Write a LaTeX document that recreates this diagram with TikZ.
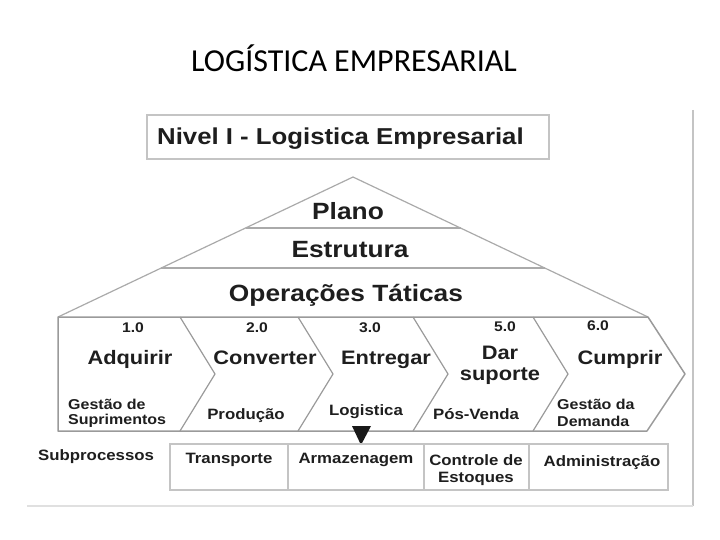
\documentclass[tikz,border=0pt]{standalone}
\usepackage{fontspec}
\setmainfont{Liberation Sans}
\newfontfamily\titlefont{Carlito}
\newfontfamily\wf[FakeStretch=1.12]{Liberation Sans}
\definecolor{txt}{HTML}{1E1E1E}
\definecolor{pyr}{HTML}{AAAAAA}
\definecolor{chev}{HTML}{9A9A9A}
\definecolor{boxc}{HTML}{C4C4C4}
\tikzset{
  lbl/.style={inner sep=0pt, anchor=base, text=txt, font=\wf\bfseries\fontsize{15}{17}\selectfont},
  sml/.style={inner sep=0pt, anchor=base west, text=txt, font=\wf\bfseries\fontsize{14.3}{16}\selectfont},
  big/.style={inner sep=0pt, anchor=base, text=txt, font=\wf\bfseries\fontsize{23.5}{26}\selectfont},
  mid/.style={inner sep=0pt, anchor=base, text=txt, font=\wf\bfseries\fontsize{19.5}{22}\selectfont},
  num/.style={inner sep=0pt, anchor=base, text=txt, font=\wf\bfseries\fontsize{14}{16}\selectfont},
}
\begin{document}
\begin{tikzpicture}[x=1pt,y=-1pt]
\useasboundingbox (0,0) rectangle (720,540);
% title
\node[inner sep=0pt, anchor=base, font=\titlefont\fontsize{32}{36}\selectfont] (title) at (354,72) {LOGÍSTICA EMPRESARIAL};
% frame
\draw[boxc, line width=2pt] (693,110) -- (693,506);
\draw[black!12, line width=1.5pt] (27,506) -- (693,506);
% header
\draw[boxc, line width=1.2pt] (147,115) rectangle (549,159);
\node[big, font=\wf\bfseries\fontsize{23}{26}\selectfont, anchor=base west] (hdr) at (157,145) {Nivel I - Logistica Empresarial};
% pyramid
\draw[pyr, line width=1.2pt] (58,317) -- (353,177) -- (648,317);
\draw[pyr, line width=1.2pt] (245.5,228) -- (460.5,228);
\draw[pyr, line width=1.2pt] (161,268) -- (545,268);
\node[big] (plano) at (348,220) {Plano};
\node[big] (estr) at (350,258) {Estrutura};
\node[big] (oper) at (346,301) {Operações Táticas};
% chevrons
\draw[chev, line width=1.5pt, line join=round] (58,317) -- (648,317) -- (685,374) -- (647,431) -- (58,431) -- cycle;
\foreach \x in {180,298,413,533}
  \draw[chev, line width=1.2pt] (\x,317) -- (\x+35,374) -- (\x,431);
\node[num] (n1) at (133,332) {1.0};
\node[num] (n2) at (257,332) {2.0};
\node[num] (n3) at (370,332) {3.0};
\node[num] (n5) at (505,331) {5.0};
\node[num] (n6) at (598,330) {6.0};
\node[mid] (adq) at (130,364) {Adquirir};
\node[mid] (conv) at (265,364) {Converter};
\node[mid] (entr) at (386,364) {Entregar};
\node[mid] (dar) at (500,359) {Dar};
\node[mid] (sup) at (500,380) {suporte};
\node[mid] (cump) at (620,364) {Cumprir};
\node[sml] (gest) at (68,409) {Gestão de};
\node[sml] (supr) at (68,424) {Suprimentos};
\node[lbl] (prod) at (246,419) {Produção};
\node[lbl] (logi) at (366,415) {Logistica};
\node[lbl] (posv) at (476,419) {Pós-Venda};
\node[sml] (gda) at (557,409) {Gestão da};
\node[sml] (dem) at (557,426) {Demanda};
% marker
\fill[black!90] (352,426) -- (371,426) -- (361,445) -- cycle;
% subprocesses
\node[lbl, anchor=base west] (subp) at (38,460) {Subprocessos};
\draw[boxc, line width=1.2pt] (170,444) rectangle (668,490);
\foreach \x in {288,424,529}
  \draw[boxc, line width=1.2pt] (\x,444) -- (\x,490);
\node[lbl] (transp) at (229,463) {Transporte};
\node[lbl] (armaz) at (356,463) {Armazenagem};
\node[lbl] (contr) at (476,465) {Controle de};
\node[lbl] (estq) at (476,482) {Estoques};
\node[lbl] (adm) at (602,466) {Administração};
\end{tikzpicture}
\end{document}
